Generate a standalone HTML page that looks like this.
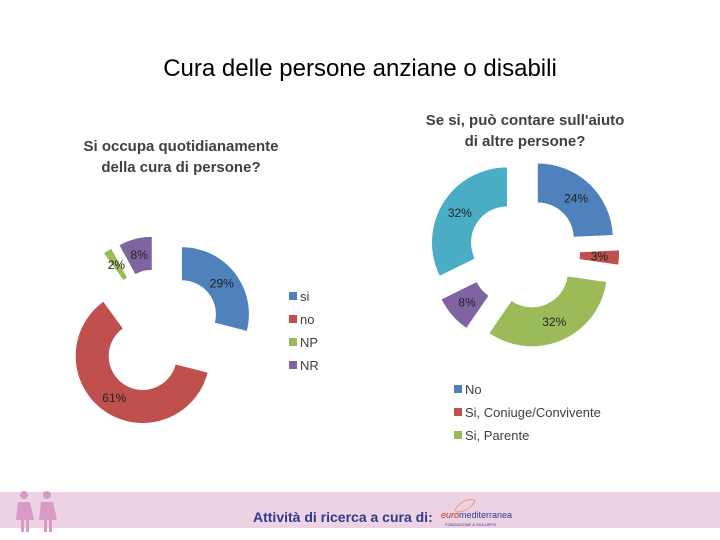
<!DOCTYPE html>
<html><head><meta charset="utf-8">
<style>
html,body{margin:0;padding:0;background:#fff;}
svg{display:block;font-family:"Liberation Sans",sans-serif;}
</style></head>
<body>
<svg id="s" width="720" height="540" viewBox="0 0 720 540" xmlns="http://www.w3.org/2000/svg">
<defs><clipPath id="legclip"><rect x="440" y="370" width="200" height="82"/></clipPath></defs>
<text x="360" y="76" text-anchor="middle" font-size="24" fill="#000">Cura delle persone anziane o disabili</text>
<g font-weight="bold" font-size="15" fill="#404040" text-anchor="middle">
<text x="181" y="151">Si occupa quotidianamente</text>
<text x="181" y="172">della cura di persone?</text>
<text x="525" y="125">Se si, può contare sull'aiuto</text>
<text x="525" y="146">di altre persone?</text>
</g>
<g id="left"></g>
<g id="right"></g>
<g id="legL" font-size="13" fill="#404040"></g>
<g id="legR" font-size="13" fill="#404040" clip-path="url(#legclip)"></g>
<rect x="0" y="492" width="720" height="36" fill="#ecd2e3"/>
<g fill="#d79bc8">
<circle cx="24" cy="495" r="4"/><path d="M18 502h12l4 18h-5v12h-3v-12h-2v12h-3v-12h-5z"/>
<circle cx="47" cy="495" r="4"/><path d="M41 502h12l4 18h-5v12h-3v-12h-2v12h-3v-12h-5z"/>
</g>
<text x="253" y="522" font-size="14" font-weight="bold" fill="#2f3a8a">Attività di ricerca a cura di:</text>
<g>
<path d="M455 510c4-8 14-12 20-10c-2 6-8 12-18 12z" fill="none" stroke="#e8a080" stroke-width="1"/>
<text x="441" y="518" font-size="9" fill="#c03030" font-style="italic">euro</text>
<text x="459" y="518" font-size="9" fill="#2f3a8a">mediterranea</text>
<text x="445" y="526" font-size="4" fill="#2f3a8a">FONDAZIONE &amp; SVILUPPO</text>
</g>
</svg>
<script>
const leftCats=["si","no","NP","NR"];
const leftVals=[29,61,2,8];
const leftColors=["#4f81bd","#c0504d","#9bbb59","#8064a2"];
const rightCats=["No","Si, Coniuge/Convivente","Si, Parente","Si, Altri","NR"];
const rightVals=[24,3,32,8,32];
const rightColors=["#4f81bd","#c0504d","#9bbb59","#8064a2","#4bacc6"];
const NS="http://www.w3.org/2000/svg";
function donut(g,vals,colors,cx,cy,R,r,ex,name){
  const tot=vals.reduce((a,b)=>a+b,0);let a0=0;
  vals.forEach((v,i)=>{
    const a1=a0+v/tot*2*Math.PI, am=(a0+a1)/2;
    const ox=cx+ex*Math.sin(am), oy=cy-ex*Math.cos(am);
    const P=(rr,a)=>[ox+rr*Math.sin(a),oy-rr*Math.cos(a)];
    const big=(a1-a0)>Math.PI?1:0;
    const p1=P(R,a0),p2=P(R,a1),p3=P(r,a1),p4=P(r,a0);
    const path=document.createElementNS(NS,"path");
    path.setAttribute("d",`M${p1}A${R},${R} 0 ${big} 1 ${p2}L${p3}A${r},${r} 0 ${big} 0 ${p4}Z`);
    path.setAttribute("fill",colors[i]);
    
    
    g.appendChild(path);
    const lp=P((R+r)/2,am);
    const t=document.createElementNS(NS,"text");
    t.setAttribute("x",lp[0]);t.setAttribute("y",lp[1]+4);
    t.setAttribute("text-anchor","middle");t.setAttribute("font-size","12");t.setAttribute("fill","#222");
    t.textContent=v+"%";
    
    
    g.appendChild(t);
    a0=a1;
  });
}
donut(document.getElementById("left"),leftVals,leftColors,159,332,67,34,29,"left-donut");
donut(document.getElementById("right"),rightVals,rightColors,524,253,75,36,20,"right-donut");
function legend(g,cats,colors,x,y0,dy,maxY){
  cats.forEach((c,i)=>{
    const y=y0+i*dy; if(y>maxY) return;
    const r=document.createElementNS(NS,"rect");
    r.setAttribute("x",x);r.setAttribute("y",y-4);r.setAttribute("width",8);r.setAttribute("height",8);r.setAttribute("fill",colors[i]);
    
    
    g.appendChild(r);
    const t=document.createElementNS(NS,"text");
    t.setAttribute("x",x+11);t.setAttribute("y",y+5);t.textContent=c;
    
    
    g.appendChild(t);
  });
}
legend(document.getElementById("legL"),leftCats,leftColors,289,296,23,400);
legend(document.getElementById("legR"),rightCats,rightColors,454,389,23,470);
</script>
</body></html>
